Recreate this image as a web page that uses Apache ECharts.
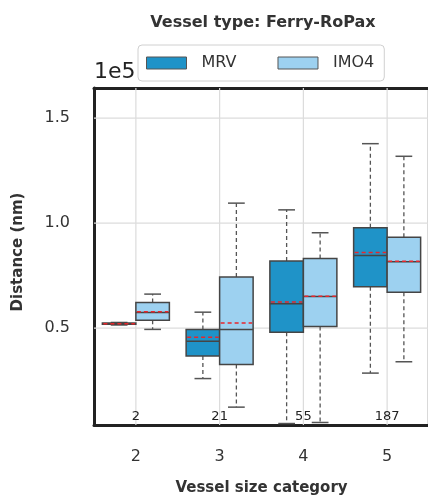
<!DOCTYPE html>
<html>
<head>
<meta charset="utf-8">
<script src="https://cdn.jsdelivr.net/npm/echarts@6/dist/echarts.min.js"></script>
<style>
html,body{margin:0;padding:0;background:#fff;}
#chart{width:428px;height:502px;}
</style>
</head>
<body>
<div id="chart"></div>
<script>
// ---- data (distance in nm) ----
const categories = ['2', '3', '4', '5'];
// [min, q1, median, q3, max]
const mrvStats = [
  [51500, 51900, 52100, 52400, 52700],
  [26000, 36700, 43800, 49400, 57600],
  [4600, 48000, 61600, 82000, 106300],
  [28600, 69700, 84600, 97800, 137800]
];
const mrvMeans = [52100, 45700, 62400, 86000];
const imoStats = [
  [49400, 53700, 57500, 62200, 66200],
  [12400, 32700, 49400, 74300, 109500],
  [5100, 50800, 65100, 83200, 95400],
  [34000, 67100, 81600, 93300, 131800]
];
const imoMeans = [57800, 52500, 65200, 81800];
const counts = [2, 21, 55, 187];
const yTicks = [50000, 100000, 150000];

const FONT = 'DejaVu Sans';
const MRV_COLOR = '#1f93c8';
const IMO_COLOR = '#9dd1f0';
const EDGE = '#454545';

function buildRows(stats, means) {
  return stats.map((s, i) => [i, s[0], s[1], s[2], s[3], s[4], means[i]]);
}

function makeRender(side, color) {
  return function (params, api) {
    const idx = api.value(0);
    const band = api.size([1, 0])[0];
    const bw = band * 0.4;
    const c = api.coord([idx, api.value(3)]);
    const cx = c[0] + side * bw / 2;
    const yMin = api.coord([idx, api.value(1)])[1];
    const yQ1 = api.coord([idx, api.value(2)])[1];
    const yMed = api.coord([idx, api.value(3)])[1];
    const yQ3 = api.coord([idx, api.value(4)])[1];
    const yMax = api.coord([idx, api.value(5)])[1];
    const yMean = api.coord([idx, api.value(6)])[1];
    const capHalf = bw / 4;
    const dashStyle = { stroke: '#555', lineWidth: 1.3, lineDash: [4, 3] };
    const capStyle = { stroke: '#555', lineWidth: 1.5 };
    return {
      type: 'group',
      children: [
        { type: 'line', shape: { x1: cx, y1: yQ1, x2: cx, y2: yMin }, style: dashStyle },
        { type: 'line', shape: { x1: cx, y1: yQ3, x2: cx, y2: yMax }, style: dashStyle },
        { type: 'line', shape: { x1: cx - capHalf, y1: yMin, x2: cx + capHalf, y2: yMin }, style: capStyle },
        { type: 'line', shape: { x1: cx - capHalf, y1: yMax, x2: cx + capHalf, y2: yMax }, style: capStyle },
        { type: 'rect', shape: { x: cx - bw / 2, y: yQ3, width: bw, height: Math.max(yQ1 - yQ3, 1) },
          style: { fill: color, stroke: EDGE, lineWidth: 1.5 } },
        { type: 'line', shape: { x1: cx - bw / 2, y1: yMed, x2: cx + bw / 2, y2: yMed },
          style: { stroke: EDGE, lineWidth: 1.5 } },
        { type: 'line', shape: { x1: cx - bw / 2 + 1, y1: yMean, x2: cx + bw / 2 - 1, y2: yMean },
          style: { stroke: '#e8262b', lineWidth: 1.5, lineDash: [4, 3] } }
      ]
    };
  };
}

const chart = echarts.init(document.getElementById('chart'), null, { renderer: 'canvas' });

const yMin = 3900, yMax = 164300;

chart.setOption({
  animation: false,
  backgroundColor: '#fff',
  textStyle: { fontFamily: FONT },
  title: {
    text: 'Vessel type: Ferry-RoPax',
    left: 258, top: 10, textAlign: 'center',
    textStyle: { fontFamily: FONT, fontSize: 16, fontWeight: 'bold', color: '#333' }
  },
  legend: {
    left: 138, top: 45,
    data: [
      { name: 'MRV', icon: 'rect', itemStyle: { color: MRV_COLOR, borderColor: '#555', borderWidth: 1 } },
      { name: 'IMO4', icon: 'rect', itemStyle: { color: IMO_COLOR, borderColor: '#555', borderWidth: 1 } }
    ],
    itemWidth: 40, itemHeight: 12, itemGap: 41,
    padding: [10, 10, 10, 8],
    borderColor: '#d0d0d0', borderWidth: 1, borderRadius: 4,
    textStyle: { fontFamily: FONT, fontSize: 16, color: '#333', padding: [0, 0, 0, 10] }
  },
  graphic: [
    { type: 'text', rotation: Math.PI / 2,
      style: { text: 'Distance (nm)', font: 'bold 15px "DejaVu Sans"', fill: '#333', textAlign: 'center', textVerticalAlign: 'middle' },
      position: [18, 252] }
  ],
  grid: { left: 94, right: -1, top: 88, bottom: 77, containLabel: false, outerBoundsMode: 'none' },
  xAxis: [{
    type: 'category', data: categories, position: 'bottom',
    boundaryGap: true,
    axisLine: { show: true, lineStyle: { color: '#222', width: 3 } },
    axisTick: { show: false },
    axisLabel: { fontFamily: FONT, fontSize: 16, color: '#333', margin: 24 },
    splitLine: { show: false },
    name: 'Vessel size category', nameLocation: 'middle', nameGap: 56,
    nameTextStyle: { fontFamily: FONT, fontSize: 15, fontWeight: 'bold', color: '#333' }
  }, {
    type: 'category', data: categories, position: 'top',
    axisLine: { show: true, lineStyle: { color: '#222', width: 3 } },
    axisTick: { show: false }, axisLabel: { show: false }, splitLine: { show: false }
  }],
  yAxis: [{
    type: 'value', min: yMin, max: yMax,
    axisLine: { show: true, lineStyle: { color: '#222', width: 3 } },
    axisTick: { show: false, customValues: yTicks },
    axisLabel: { customValues: yTicks, fontFamily: FONT, fontSize: 16, color: '#333', margin: 24,
      formatter: v => (v / 1e5).toFixed(1) },
    splitLine: { show: false },
    name: '1e5', nameLocation: 'end', nameGap: 5,
    nameTextStyle: { fontFamily: FONT, fontSize: 22, color: '#222', align: 'left', padding: [0, 0, 0, 0] }
  }, {
    type: 'value', min: yMin, max: yMax, position: 'right', offset: -2,
    axisLine: { show: true, lineStyle: { color: '#d9d9d9', width: 1 } },
    axisTick: { show: false }, axisLabel: { show: false }, splitLine: { show: false }
  }],
  series: [
    {
      name: 'grid', type: 'custom', z: 1, silent: true,
      data: [[0]],
      renderItem: function (params, api) {
        const ch = [];
        for (let i = 0; i < categories.length; i++) {
          const top = api.coord([i, yMax]);
          const bot = api.coord([i, yMin]);
          ch.push({ type: 'line', shape: { x1: top[0], y1: top[1], x2: bot[0], y2: bot[1] },
            style: { stroke: '#dcdcdc', lineWidth: 1.2 } });
        }
        yTicks.forEach(v => {
          const l = api.coord([0, v]);
          const left = params.coordSys.x;
          const right = params.coordSys.x + params.coordSys.width;
          ch.push({ type: 'line', shape: { x1: left, y1: l[1], x2: right, y2: l[1] },
            style: { stroke: '#dcdcdc', lineWidth: 1.2 } });
        });
        return { type: 'group', children: ch };
      }
    },
    {
      name: 'MRV', type: 'custom', z: 3, itemStyle: { color: MRV_COLOR },
      data: buildRows(mrvStats, mrvMeans), renderItem: makeRender(-1, MRV_COLOR)
    },
    {
      name: 'IMO4', type: 'custom', z: 3, itemStyle: { color: IMO_COLOR },
      data: buildRows(imoStats, imoMeans), renderItem: makeRender(1, IMO_COLOR)
    },
    {
      name: 'counts', type: 'custom', z: 4, silent: true,
      data: counts.map((c, i) => [i, c]),
      renderItem: function (params, api) {
        const p = api.coord([api.value(0), yMin]);
        return { type: 'text', x: p[0], y: p[1] - 2,
          style: { text: String(api.value(1)), fill: '#222', font: '13px "DejaVu Sans"',
            textAlign: 'center', textVerticalAlign: 'bottom' } };
      }
    }
  ]
});
</script>
</body>
</html>
